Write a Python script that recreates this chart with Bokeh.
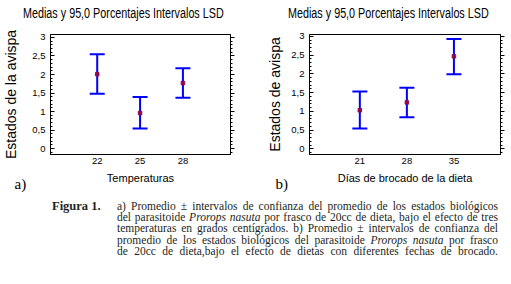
from bokeh.plotting import figure
from bokeh.models import (Whisker, ColumnDataSource, SingleIntervalTicker, FixedTicker,
                          LinearAxis, Title, CustomJSTickFormatter, Range1d, Div, TeeHead)
from bokeh.layouts import row, column
from bokeh.embed import file_html
from bokeh.resources import INLINE

# ---- data ----
title_text = "Medias y 95,0 Porcentajes Intervalos LSD"

temp_labels = ["22", "25", "28"]
temp_means = [2.01, 0.96, 1.77]
temp_lower = [1.48, 0.54, 1.37]
temp_upper = [2.55, 1.39, 2.17]

diet_labels = ["21", "28", "35"]
diet_means = [1.03, 1.24, 2.47]
diet_lower = [0.54, 0.84, 1.99]
diet_upper = [1.53, 1.63, 2.93]

SANS = "Liberation Sans"
SERIF = "Liberation Serif"
BLUE = "#0000ff"
TITLE_H = 22
FIG_H = 198 - TITLE_H


def make_title(width, left):
    html = (f'<div style="position:relative;width:{width}px;height:{TITLE_H}px;">'
            f'<span style="position:absolute;left:{left}px;top:5px;display:inline-block;'
            f'white-space:nowrap;font-family:{SANS};font-size:14px;line-height:16px;'
            'color:black;transform:scaleX(0.77);transform-origin:left top;">'
            f'{title_text}</span></div>')
    return Div(text=html, width=width, height=TITLE_H, margin=(0, 0, 0, 0))


def make_panel(labels, means, lower, upper, xr, yr, width, borders, xlabel, ylabel,
               ylabel_standoff, letter, letter_offset):
    bl, br, bt, bb = borders
    p = figure(width=width, height=FIG_H, x_range=Range1d(*xr), y_range=Range1d(*yr),
               output_backend="svg", toolbar_location=None,
               min_border_left=bl, min_border_right=br, min_border_top=bt,
               min_border_bottom=bb)
    p.xgrid.visible = False
    p.ygrid.visible = False
    p.outline_line_color = "black"
    p.outline_line_width = 1
    p.outline_line_alpha = 1
    p.background_fill_color = "white"
    p.border_fill_color = "white"

    xs = list(range(1, len(labels) + 1))
    src = ColumnDataSource(dict(x=xs, mean=means, lower=lower, upper=upper))

    w = Whisker(base="x", lower="lower", upper="upper", source=src, dimension="height",
                line_color=BLUE, line_width=2,
                upper_head=TeeHead(size=15, line_color=BLUE, line_width=2),
                lower_head=TeeHead(size=15, line_color=BLUE, line_width=2))
    p.add_layout(w)
    p.scatter("x", "mean", source=src, marker="square", size=3.5,
              fill_color="#8e0a4e", line_color="#8e0a4e")

    # x axis
    xa = p.xaxis[0]
    xa.ticker = FixedTicker(ticks=xs)
    xa.major_label_overrides = {x: lab for x, lab in zip(xs, labels)}
    xa.major_tick_in = 0
    xa.major_tick_out = 0
    xa.minor_tick_in = 0
    xa.minor_tick_out = 0
    xa.axis_line_color = "black"
    xa.major_label_text_font = SANS
    xa.major_label_text_font_size = "9.5px"
    xa.major_label_text_color = "black"
    xa.major_label_standoff = 3
    xa.axis_label = xlabel
    xa.axis_label_text_font = SANS
    xa.axis_label_text_font_size = "11px"
    xa.axis_label_text_font_style = "normal"
    xa.axis_label_text_color = "black"
    xa.axis_label_standoff = 5

    fmt = CustomJSTickFormatter(code="return tick.toString().replace('.', ',');")

    ya = p.yaxis[0]
    ya.ticker = SingleIntervalTicker(interval=0.5, num_minor_ticks=5)
    ya.formatter = fmt
    ya.major_tick_in = 4
    ya.major_tick_out = 0
    ya.minor_tick_in = 2
    ya.minor_tick_out = 0
    ya.major_tick_line_color = "black"
    ya.minor_tick_line_color = "black"
    ya.axis_line_color = "black"
    ya.major_label_text_font = SANS
    ya.major_label_text_font_size = "9.5px"
    ya.major_label_text_color = "black"
    ya.major_label_standoff = 5
    ya.axis_label = ylabel
    ya.axis_label_text_font = SANS
    ya.axis_label_text_font_size = "14px"
    ya.axis_label_text_font_style = "normal"
    ya.axis_label_text_color = "black"
    ya.axis_label_standoff = ylabel_standoff

    ra = LinearAxis(ticker=SingleIntervalTicker(interval=0.5, num_minor_ticks=5),
                    major_label_text_font_size="1px", major_label_text_color=None,
                    major_label_standoff=0,
                    major_tick_in=0, major_tick_out=4, minor_tick_in=0, minor_tick_out=2,
                    axis_line_color="black", major_tick_line_color="black",
                    minor_tick_line_color="black")
    p.add_layout(ra, "right")

    p.add_layout(Title(text=letter, align="left", offset=letter_offset, standoff=-22,
                       vertical_align="top",
                       text_font=SERIF, text_font_size="15px", text_font_style="normal",
                       text_color="black"), "below")
    return p


pa = make_panel(temp_labels, temp_means, temp_lower, temp_upper,
                (-0.09, 4.11), (-0.16, 3.08), 250, (42, 20, 33 - TITLE_H, 44),
                "Temperaturas", "Estados de la avispa", 10, "a)", -36)
pb = make_panel(diet_labels, diet_means, diet_lower, diet_upper,
                (-0.07, 3.99), (-0.152, 3.053), 261, (59, 11, 34 - TITLE_H, 44),
                "Días de brocado de la dieta", "Estados de avispa", 5, "b)", -34)

ta = make_title(250, 23)
tb = make_title(261, 38)

lines = [
    "a) Promedio ± intervalos de confianza del promedio de los estados biológicos",
    "del parasitoide <i>Prorops nasuta</i> por frasco de 20cc de dieta, bajo el efecto de tres",
    "temperaturas en grados centígrados. b) Promedio ± intervalos de confianza del",
    "promedio de los estados biológicos del parasitoide <i>Prorops nasuta</i> por frasco",
    "de 20cc de dieta,bajo el efecto de dietas con diferentes fechas de brocado.",
]
line_html = ""
for ln in lines:
    line_html += ('<div style="text-align:justify;text-align-last:justify;'
                  f'white-space:nowrap;">{ln}</div>')

caption = (
    f'<div style="position:relative;width:511px;height:86px;font-family:{SERIF};'
    'font-size:11.5px;line-height:11.2px;color:#231f20;">'
    '<div style="position:absolute;left:52px;top:3px;font-weight:bold;'
    'font-size:12.5px;">Figura 1.</div>'
    f'<div style="position:absolute;left:117px;top:3px;width:381px;">{line_html}</div>'
    '</div>'
)
cap = Div(text=caption, width=511, height=86, margin=(0, 0, 0, 0))

layout = column(row(ta, tb, spacing=0), row(pa, pb, spacing=0), cap, spacing=0)

open("out.html", "w").write(file_html(layout, INLINE))
